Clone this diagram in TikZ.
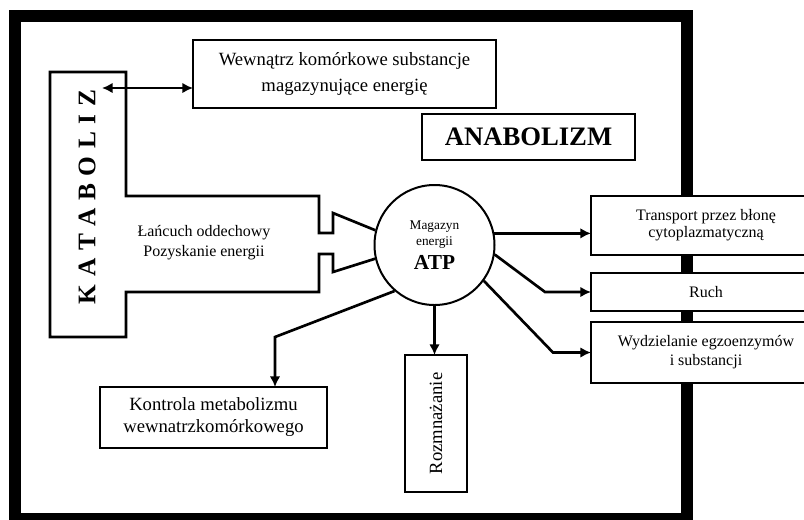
\documentclass[tikz,border=0pt]{standalone}
\usepackage{fontspec}
\setmainfont{Liberation Serif}
\usepackage{graphicx}
\usetikzlibrary{arrows.meta}

\tikzset{
  box/.style={draw, fill=white, line width=2pt, align=center, inner sep=0pt, outer sep=0pt},
  arr/.style={line width=2pt, -{Latex[length=8pt,width=8pt]}},
}

\begin{document}
\begin{tikzpicture}[x=0.75pt, y=-0.75pt]
  \useasboundingbox (0,0) rectangle (804,519);
  % Outer frame
  \draw[line width=9pt] (14.5,16) rectangle (687,519);

  % ATP store
  \node[draw, circle, line width=1.5pt, minimum size=90pt, inner sep=0pt, align=center] (atp) at (434.5,245)
    {\fontsize{10}{12}\selectfont Magazyn\\\fontsize{10}{12}\selectfont energii\\[4pt]\fontsize{16}{16}\selectfont\bfseries ATP};

  % Catabolism block
  \draw[line width=2pt] (atp.166) -- (333,213) -- (333,233) -- (319,233) -- (319,196) -- (126,196)
    -- (126,72) -- (50,72) -- (50,337) -- (126,337) -- (126,292) -- (319,292) -- (319,254)
    -- (333,254) -- (333,272) -- (atp.193);
  \node[rotate=90, font=\fontsize{19}{19}\selectfont\bfseries] (kat) at (87,197) {\spaceskip=0.3em K A T A B O L I Z};
  \node[align=center, font=\fontsize{12}{15}\selectfont] (lan) at (204,243) {Łańcuch oddechowy\\Pozyskanie energii};

  % Boxes
  \node[box, minimum width=227.25pt, minimum height=51pt, font=\fontsize{14}{19}\selectfont] (wew) at (344.5,74)
    {Wewnątrz komórkowe substancje\\magazynujące energię};
  \node[box, minimum width=159.75pt, minimum height=34.5pt, font=\fontsize{20}{20}\selectfont\bfseries] (anab) at (528.5,137) {ANABOLIZM};
  \node[box, minimum width=172.5pt, minimum height=44.25pt, font=\fontsize{12}{12.5}\selectfont] (trans) at (706,225.5)
    {Transport przez błonę\\cytoplazmatyczną};
  \node[box, minimum width=172.5pt, minimum height=28.5pt, font=\fontsize{12}{13}\selectfont] (ruch) at (706,292) {Ruch};
  \node[box, minimum width=172.5pt, minimum height=45.75pt, font=\fontsize{12}{14.25}\selectfont] (wyd) at (706,352.5)
    {Wydzielanie egzoenzymów\\i substancji};
  \node[box, minimum width=46.5pt, minimum height=102.75pt, font=\fontsize{14}{15}\selectfont] (roz) at (436,423.5)
    {\rotatebox{90}{Rozmnażanie}};
  \node[box, minimum width=170.25pt, minimum height=45.75pt, font=\fontsize{14}{16.5}\selectfont] (kon) at (213.5,417.5)
    {Kontrola metabolizmu\\wewnatrzkomórkowego};

  % Connectors
  \coordinate (kend) at (102,88);
  \draw[arr, {Latex[length=8pt,width=8pt]}-{Latex[length=8pt,width=8pt]}] (kend) -- (kend -| wew.west);
  \draw[arr] (atp.11) -- (atp.11 -| trans.west);
  \coordinate (k1) at (545,292);
  \draw[arr] (atp.-9) -- (k1) -- (ruch.west);
  \coordinate (k2) at (553,352.5);
  \draw[arr] (atp.-36) -- (k2) -- (wyd.west);
  \draw[arr] (atp.south) -- (atp.south |- roz.north);
  \coordinate (k3) at (275,337);
  \draw[arr] (atp.-131) -- (k3) -- (k3 |- kon.north);
\end{tikzpicture}
\end{document}
